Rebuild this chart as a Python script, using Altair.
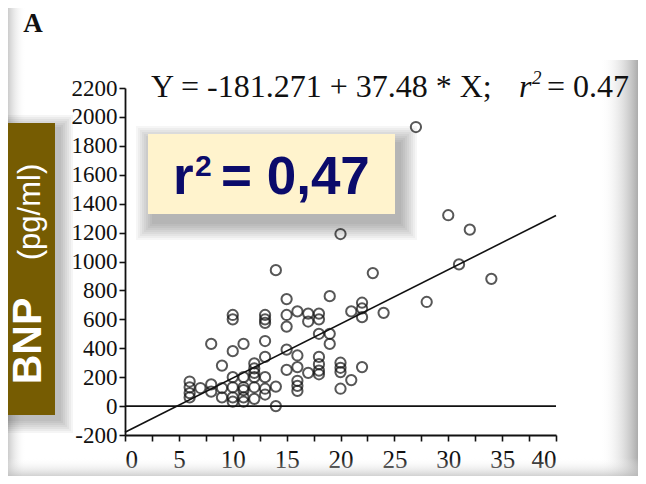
import altair as alt
import pandas as pd

# ---------------- data ----------------
x_tick_values = [0, 2.5, 5, 7.5, 10, 12.5, 15, 17.5, 20, 22.5, 25, 27.5, 30, 32.5, 35, 37.5, 40]
y_tick_values = [-200, 0, 200, 400, 600, 800, 1000, 1200, 1400, 1600, 1800, 2000, 2200]

bnp_x = [6, 6, 6, 6, 7, 8, 8, 8, 9, 9, 9,
         10, 10, 10, 10, 10, 10, 10, 11, 11, 11, 11, 11, 11,
         12, 12, 12, 12, 12, 12, 13, 13, 13, 13, 13, 13, 13, 13,
         14, 14, 14, 15, 15, 15, 15, 15, 16, 16, 16, 16, 16, 16,
         17, 17, 17, 18, 18, 18, 18, 18, 18, 18, 19, 19, 19,
         20, 20, 20, 20, 20, 21, 21, 22, 22, 22, 22, 23, 24, 27, 28, 30, 31, 32, 34]
bnp_y = [170, 130, 90, 60, 125, 430, 150, 100, 280, 125, 60,
         630, 600, 380, 200, 130, 60, 30, 430, 200, 130, 110, 60, 30,
         295, 260, 230, 200, 130, 50, 630, 600, 575, 450, 340, 200, 120, 80,
         940, 135, 0, 740, 630, 550, 390, 250, 655, 350, 270, 175, 140, 105,
         640, 585, 230, 640, 600, 500, 340, 290, 245, 220, 760, 500, 430,
         1190, 300, 265, 235, 120, 655, 180, 715, 675, 615, 270, 920, 645, 1930, 720, 1320, 980, 1220, 880]

fit_x = [0, 40]
fit_y = [-181.271, 1318.0]
zero_x = [0, 40]
zero_y = [0, 0]

equation_text = "Y = -181.271 + 37.48 * X;"
r2_text = "= 0,47"
panel_letter = "A"

# ---------------- layout ----------------
W, H = 431, 347
PL, PT, PR, PB = 117, 80, 82, 41
OX, OY = 8 + PL, 8 + PT  # page position of plot origin


def vx(px):
    return px - OX


def vy(py):
    return py - OY


one = pd.DataFrame({"a": [0]})

x_scale = alt.Scale(domain=[0, 40], nice=False, zero=False)
y_scale = alt.Scale(domain=[-200, 2200], nice=False, zero=False)


def box(x1, x2, y1, y2, **kw):
    return alt.Chart(one).mark_rect(**kw).encode(
        x=alt.value(vx(x1)), x2=alt.value(vx(x2)),
        y=alt.value(vy(y1)), y2=alt.value(vy(y2)))


def label(text, px, py, **kw):
    return alt.Chart(one).mark_text(text=text, **kw).encode(
        x=alt.value(vx(px)), y=alt.value(vy(py)))


def grad(x1, y1, x2, y2, c0, c1):
    return alt.LinearGradient(
        gradient="linear", x1=x1, y1=y1, x2=x2, y2=y2,
        stops=[alt.GradientStop(color=c0, offset=0), alt.GradientStop(color=c1, offset=1)])


layers = []
# soft vignette of the slide
layers.append(box(0, 26, 0, 484, color=grad(0, 0, 1, 0, "#949494", "rgba(255,255,255,0)")))
layers.append(box(600, 646, 60, 484, color=grad(0, 0, 1, 0, "rgba(255,255,255,0)", "#858585")))
layers.append(box(0, 646, 458, 484, color=grad(0, 0, 0, 1, "rgba(255,255,255,0)", "#a0a0a0")))

# shadows of the boxes
for i in range(9):
    e = 2 * i
    layers.append(box(148 + 4 - e, 395 + 6 + e, 134 + 8 - e, 214 + 10 + e, color="#000000", opacity=0.035))
for i in range(7):
    e = 2 * i
    layers.append(box(0, 55 + 6 + e, 123 + 4 - e, 415 + 6 + e, color="#000000", opacity=0.04))

x_axis = alt.Axis(values=x_tick_values, title=None, grid=False, tickSize=6, tickWidth=1.6,
                  domainWidth=1.8, labelFontSize=25, labelPadding=6, labelOverlap=False,
                  labelExpr="datum.value % 5 == 0 ? '' + datum.value : ''")
y_axis = alt.Axis(values=y_tick_values, title=None, grid=False, tickSize=6, tickWidth=1.6,
                  domainWidth=1.8, labelFontSize=23, labelPadding=2, labelOverlap=False,
                  labelExpr="datum.value < 0 ? '-' + abs(datum.value) : '' + datum.value")

base = alt.Chart(pd.DataFrame({"x": bnp_x, "y": bnp_y}))

points = base.mark_point(shape="circle", filled=False, size=105, strokeWidth=2, color="#111111").encode(
    x=alt.X("x:Q", scale=x_scale, axis=x_axis),
    y=alt.Y("y:Q", scale=y_scale, axis=y_axis),
)

fit = alt.Chart(pd.DataFrame({"x": fit_x, "y": fit_y})).mark_line(color="#111111", strokeWidth=1.6).encode(
    x=alt.X("x:Q", scale=x_scale, axis=x_axis), y=alt.Y("y:Q", scale=y_scale, axis=y_axis))
zero = alt.Chart(pd.DataFrame({"x": zero_x, "y": zero_y})).mark_line(color="#111111", strokeWidth=1.6).encode(
    x=alt.X("x:Q", scale=x_scale, axis=x_axis), y=alt.Y("y:Q", scale=y_scale, axis=y_axis))

serif = "Liberation Serif"
sans = "Liberation Sans"

texts = [
    label(panel_letter, 33, 32, font=serif, fontSize=27, fontWeight="bold", align="center", baseline="alphabetic", color="#111"),
    label(equation_text, 151, 97, font=serif, fontSize=32, align="left", baseline="alphabetic", color="#111"),
    label("r", 519, 97, font=serif, fontSize=32, fontStyle="italic", align="left", baseline="alphabetic", color="#111"),
    label("2", 532, 84, font=serif, fontSize=19, fontStyle="italic", align="left", baseline="alphabetic", color="#111"),
    label("= 0.47", 547, 97, font=serif, fontSize=32, align="left", baseline="alphabetic", color="#111"),
]

yellow = box(148, 395, 134, 214, color="#FFF3CD")
r2_r = label("r", 173, 194, font=sans, fontSize=53, fontWeight="bold", align="left", baseline="alphabetic", color="#0b0b6b")
r2_sup = label("2", 195, 176, font=sans, fontSize=30, fontWeight="bold", align="left", baseline="alphabetic", color="#0b0b6b")
r2_val = label(r2_text, 221, 194, font=sans, fontSize=53, fontWeight="bold", align="left", baseline="alphabetic", color="#0b0b6b")

brown = box(0, 55, 123, 415, color="#765c02")
bnp_lbl = label("BNP", 29, 341, font=sans, fontSize=41, fontWeight="bold", angle=270, align="center", baseline="middle", color="white")
unit_lbl = label("(pg/ml)", 31, 212, font=sans, fontSize=31, angle=270, align="center", baseline="middle", color="white")

chart = alt.layer(
    *layers, zero, fit, points, *texts, yellow, r2_r, r2_sup, r2_val, brown, bnp_lbl, unit_lbl
).properties(
    width=W, height=H,
    padding={"left": PL, "top": PT, "right": PR, "bottom": PB},
    autosize=alt.AutoSizeParams(type="none"),
    background="white",
).configure_view(stroke=None).configure_axis(
    labelFont=serif, labelColor="#111111", domainColor="#111111", tickColor="#111111",
    labelOverlap=False,
)

chart.save("out.html", embed_options={"renderer": "svg", "actions": False})
